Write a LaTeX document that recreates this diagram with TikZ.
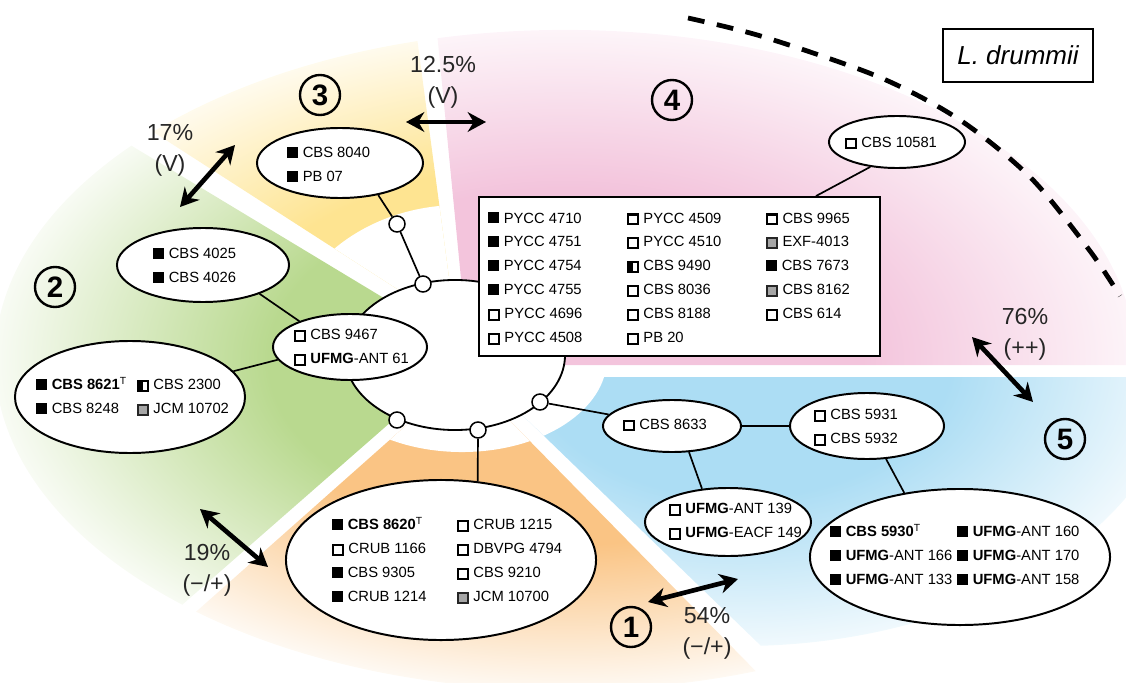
\documentclass[tikz,border=0pt]{standalone}
\usepackage{fontspec}
\setmainfont{Liberation Sans}
\usetikzlibrary{shapes.geometric,arrows.meta}

\definecolor{grn}{RGB}{185,217,143}
\definecolor{ylw}{RGB}{254,228,145}
\definecolor{pnk}{RGB}{243,196,220}
\definecolor{blu}{RGB}{172,221,244}
\definecolor{org}{RGB}{250,196,132}

\pgfdeclareradialshading{grnfade}{\pgfpointorigin}{color(0bp)=(grn); color(13bp)=(grn); color(25bp)=(grn!10); color(50bp)=(grn!10)}
\pgfdeclareradialshading{ylwfade}{\pgfpointorigin}{color(0bp)=(ylw); color(15bp)=(ylw); color(25bp)=(ylw!16); color(50bp)=(ylw!16)}
\pgfdeclareradialshading{pnkfade}{\pgfpointorigin}{color(0bp)=(pnk); color(13bp)=(pnk); color(25bp)=(pnk!18); color(50bp)=(pnk!18)}
\pgfdeclareradialshading{blufade}{\pgfpointorigin}{color(0bp)=(blu); color(12bp)=(blu); color(25bp)=(blu!18); color(50bp)=(blu!18)}
\pgfdeclareradialshading{orgfade}{\pgfpointorigin}{color(0bp)=(org); color(14bp)=(org); color(25bp)=(org!10); color(50bp)=(org!10)}

\newcommand{\mkB}{\rule{7.5pt}{7.5pt}\hspace{3.5pt}}
\newcommand{\mkW}{{\setlength{\fboxsep}{0pt}\setlength{\fboxrule}{1.5pt}\fcolorbox{black}{white}{\rule{0pt}{5.3pt}\rule{5.3pt}{0pt}}}\hspace{3.2pt}}
\newcommand{\mkG}{{\setlength{\fboxsep}{0pt}\setlength{\fboxrule}{1.5pt}\fcolorbox{black!85}{black!35}{\rule{0pt}{5.3pt}\rule{5.3pt}{0pt}}}\hspace{3.2pt}}
\newcommand{\mkH}{{\setlength{\fboxsep}{0pt}\setlength{\fboxrule}{1.5pt}\fcolorbox{black}{white}{\rule{2.65pt}{5.3pt}\rule{2.65pt}{0pt}}}\hspace{3.2pt}}
\newcommand{\typeT}{\textsuperscript{T}}
\newcommand{\ufmg}{\textbf{UFMG}}

\tikzset{
  strain/.style={draw, ellipse, fill=white, line width=1.4pt, inner sep=0pt},
  ids/.style={inner sep=0pt, anchor=west, font=\fontsize{10.5}{17}\selectfont},
  knot/.style={draw, circle, fill=white, line width=1.1pt, minimum size=0.4cm, inner sep=0pt},
  num/.style={draw, circle, line width=1.7pt, minimum size=1cm, inner sep=0pt, font=\fontsize{21}{21}\selectfont\bfseries},
  pct/.style={align=center, inner sep=0pt, text=black!85, font=\fontsize{16.5}{22}\selectfont},
  dbl/.style={{Stealth[length=13pt,width=14pt]}-{Stealth[length=13pt,width=14pt]}, line width=3.3pt},
  link/.style={line width=1.2pt}
}

\begin{document}
\begin{tikzpicture}[x=0.025cm, y=-0.025cm]
\useasboundingbox (0,0) rectangle (1126,683);

\begin{scope}
\clip (455,341) -- (-100,6) -- (-100,852) -- (440,379) -- cycle;
\shade[shading=grnfade] (565,360) ellipse [x radius=14.25cm, y radius=8.25cm];
\end{scope}

\begin{scope}
\clip (450,323) -- (54,68) -- (54,-60) -- (404,-60) -- (455,323) -- cycle;
\shade[shading=ylwfade] (565,360) ellipse [x radius=14.25cm, y radius=8.25cm];
\fill[white] (460,355) ellipse [x radius=4.45cm, y radius=3.75cm];
\end{scope}

\begin{scope}
\clip (428,-60) -- (1200,-60) -- (1200,365) -- (563,365) -- (466,330) -- cycle;
\shade[shading=pnkfade] (565,360) ellipse [x radius=14.25cm, y radius=8.25cm];
\end{scope}

\begin{scope}
\clip (483,377) -- (1200,377) -- (1200,760) -- (879,760) -- cycle;
\shade[shading=blufade] (740,360) ellipse [x radius=11cm, y radius=7.15cm];
\fill[white] (462,358) ellipse [x radius=3.625cm, y radius=2.35cm];
\end{scope}

\begin{scope}
\clip (464,374) -- (29,760) -- (843,760) -- cycle;
\shade[shading=orgfade] (565,360) ellipse [x radius=14.25cm, y radius=8.25cm];
\fill[white] (462,358) ellipse [x radius=3.625cm, y radius=2.35cm];
\end{scope}

\draw[line width=3.4pt, dash pattern=on 12pt off 9pt] plot[smooth] coordinates {(688,18) (764,37) (879,77) (960,120) (1031,178) (1090,251) (1120,296)};

\node[strain, line width=1.3pt, minimum width=5.5cm, minimum height=3.75cm] (hub) at (455,355) {};

\node[knot] (k1) at (397,224) {};
\node[knot] (k2) at (423,284) {};
\node[knot] (k3) at (397,420) {};
\node[knot] (k4) at (478,430) {};
\node[knot] (k5) at (540,402) {};

\node[strain, minimum width=4.15cm, minimum height=1.75cm] (n8040) at (340,163) {};
\node[strain, minimum width=4.3cm, minimum height=1.85cm] (n4025) at (203,265) {};
\node[strain, minimum width=3.85cm, minimum height=1.65cm] (n9467) at (350,347) {};
\node[strain, minimum width=5.75cm, minimum height=2.8cm] (n8621) at (130,397) {};
\node[strain, minimum width=7.75cm, minimum height=4cm] (n8620) at (441,560) {};
\node[strain, minimum width=3.4cm, minimum height=1.3cm] (n10581) at (897,142) {};
\node[strain, minimum width=3.45cm, minimum height=1.3cm] (n8633) at (672,426) {};
\node[strain, minimum width=3.85cm, minimum height=1.65cm] (n5931) at (867,426) {};
\node[strain, minimum width=4.15cm, minimum height=1.7cm] (n139) at (728,522) {};
\node[strain, minimum width=7.5cm, minimum height=3.4cm] (n5930) at (960,557) {};

\node[draw, fill=white, line width=1.3pt, minimum width=10.025cm, minimum height=3.975cm, inner sep=0pt] (pool) at (679.5,276.5) {};

\node[ids] (t8040) at (287,165) {\begin{tabular}{@{}l@{}}\mkB CBS 8040\\ \mkB PB 07\end{tabular}};
\node[ids] (t4025) at (153,266) {\begin{tabular}{@{}l@{}}\mkB CBS 4025\\ \mkB CBS 4026\end{tabular}};
\node[ids] (t9467) at (294,347) {\begin{tabular}{@{}l@{}}\mkW CBS 9467\\ \mkW\ufmg-ANT 61\end{tabular}};
\node[ids] (t8621) at (36,397) {\begin{tabular}{@{}p{2.525cm}@{}l@{}}\mkB\textbf{CBS 8621}\typeT & \mkH CBS 2300\\ \mkB CBS 8248 & \mkG JCM 10702\end{tabular}};
\node[ids] (t8620) at (332,561) {\begin{tabular}{@{}p{3.125cm}@{}l@{}}\mkB\textbf{CBS 8620}\typeT & \mkW CRUB 1215\\ \mkW CRUB 1166 & \mkW DBVPG 4794\\ \mkB CBS 9305 & \mkW CBS 9210\\ \mkB CRUB 1214 & \mkG JCM 10700\end{tabular}};
\node[ids] (tpool) at (488,278) {\begin{tabular}{@{}p{3.475cm}@{}p{3.475cm}@{}l@{}}\mkB PYCC 4710 & \mkW PYCC 4509 & \mkW CBS 9965\\ \mkB PYCC 4751 & \mkW PYCC 4510 & \mkG EXF-4013\\ \mkB PYCC 4754 & \mkH CBS 9490 & \mkB CBS 7673\\ \mkB PYCC 4755 & \mkW CBS 8036 & \mkG CBS 8162\\ \mkW PYCC 4696 & \mkW CBS 8188 & \mkW CBS 614\\ \mkW PYCC 4508 & \mkW PB 20 & \end{tabular}};
\node[ids] (t10581) at (845,143) {\mkW CBS 10581};
\node[ids] (t8633) at (623,425) {\mkW CBS 8633};
\node[ids] (t5931) at (814,427) {\begin{tabular}{@{}l@{}}\mkW CBS 5931\\ \mkW CBS 5932\end{tabular}};
\node[ids] (t139) at (669,521) {\begin{tabular}{@{}l@{}}\mkW\ufmg-ANT 139\\ \mkW\ufmg-EACF 149\end{tabular}};
\node[ids] (t5930) at (830,556) {\begin{tabular}{@{}p{3.175cm}@{}l@{}}\mkB\textbf{CBS 5930}\typeT & \mkB\ufmg-ANT 160\\ \mkB\ufmg-ANT 166 & \mkB\ufmg-ANT 170\\ \mkB\ufmg-ANT 133 & \mkB\ufmg-ANT 158\end{tabular}};

\draw[link] (n8040.-40) -- (k1) -- (k2);
\draw[link] (n4025.-27) -- (n9467.153);
\draw[link] (n8621.14) -- (n9467.190);
\draw[link] (k4) -- (n8620.65);
\draw[link] (k5) -- (n8633);
\draw[link] (n8633) -- (n5931);
\draw[link] (n8633.-57) -- (n139.128);
\draw[link] (n5931.-60) -- (n5930.131);
\draw[link] (n10581.-137) -- ([xshift=-1.625cm]pool.north east);

\node[num] (g1) at (631,627) {1};
\node[num] (g2) at (55,287) {2};
\node[num] (g3) at (320,95) {3};
\node[num] (g4) at (672,100) {4};
\node[num] (g5) at (1065,439) {5};

\node[pct] (p17) at (170,150) {17\%\\(V)};
\node[pct] (p12) at (443,82) {12.5\%\\(V)};
\node[pct] (p19) at (207,570) {19\%\\(−/+)};
\node[pct] (p54) at (707,633) {54\%\\(−/+)};
\node[pct] (p76) at (1025,334) {76\%\\(++)};

\coordinate (a17a) at (235,145);
\coordinate (a17b) at (180,207);
\coordinate (a12a) at (406,122);
\coordinate (a12b) at (486,122);
\coordinate (a19a) at (200,509);
\coordinate (a19b) at (268,567);
\coordinate (a54a) at (648,602);
\coordinate (a54b) at (738,579);
\coordinate (a76a) at (972,337);
\coordinate (a76b) at (1033,402);
\draw[dbl] (a17a) -- (a17b);
\draw[dbl] (a12a) -- (a12b);
\draw[dbl] (a19a) -- (a19b);
\draw[dbl] (a54a) -- (a54b);
\draw[dbl] (a76a) -- (a76b);

\node[draw, line width=1.3pt, minimum width=3.75cm, minimum height=1.325cm, inner sep=0pt, font=\fontsize{18.5}{20}\selectfont\itshape] (species) at (1018,55.5) {L. drummii};

\end{tikzpicture}
\end{document}
